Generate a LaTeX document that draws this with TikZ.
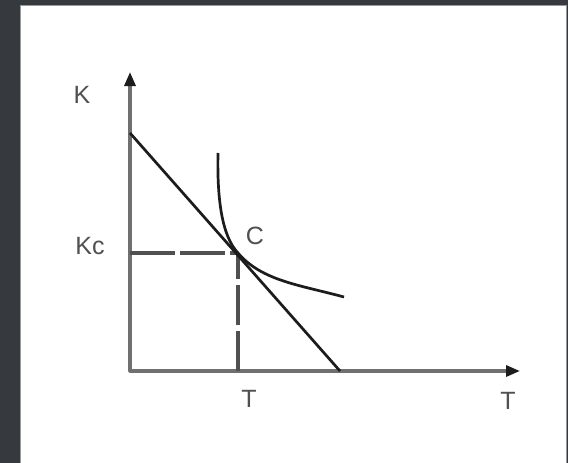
\documentclass[tikz,border=0pt]{standalone}
\usepackage{fontspec}
\setmainfont{Liberation Sans}
\usetikzlibrary{arrows.meta}
\definecolor{Frame}{RGB}{54,57,61}
\definecolor{Edge}{RGB}{150,154,158}
\definecolor{Axis}{RGB}{112,112,112}
\definecolor{Label}{RGB}{80,80,80}
\definecolor{Curve}{RGB}{28,28,28}

\begin{document}
\begin{tikzpicture}[x=1pt,y=-1pt,>={Triangle[length=14pt,width=11pt,color=Curve]},
  lbl/.style={text=Label,font=\fontsize{25}{25}\selectfont,inner sep=0pt}]
\useasboundingbox (0,0) rectangle (568,463);
\fill[Frame] (0,0) rectangle (568,463);
\fill[white] (20,5) rectangle (566,463);
\draw[Edge,line width=1pt] (20.5,463) -- (20.5,5.5) -- (566.5,5.5) -- (566.5,463);

\coordinate (O) at (130,371);
\coordinate (Ktop) at (130,72);
\coordinate (Tend) at (520,371);
\coordinate (A) at (130,133);
\coordinate (B) at (340,371);
\coordinate (C) at (238,253);
\coordinate (Kc) at (130,253);
\coordinate (Tc) at (238,371);
\coordinate (Itop) at (218,153);
\coordinate (Iend) at (344,297);

\draw[Axis,line width=3.2pt,line join=round,<->] (Ktop) -- (O) -- (Tend);
\draw[Label,line width=3.8pt,dash pattern=on 45pt off 5pt] (Kc) -- (C);
\draw[Label,line width=3.8pt,dash pattern=on 40pt off 6pt] (Tc) -- (C);

\draw[Curve,line width=2.7pt] (A) -- (B);
\draw[Curve,line width=2.7pt] (Itop) .. controls (217,200) and (222,236) .. (C)
  .. controls (262,281) and (300,285) .. (Iend);

\node[lbl] (Klab) at (82,95) {K};
\node[lbl] (Kclab) at (90,246) {Kc};
\node[lbl] (Clab) at (255,236) {C};
\node[lbl] (Tlab) at (249,399) {T};
\node[lbl] (Taxis) at (508,401) {T};
\end{tikzpicture}
\end{document}
